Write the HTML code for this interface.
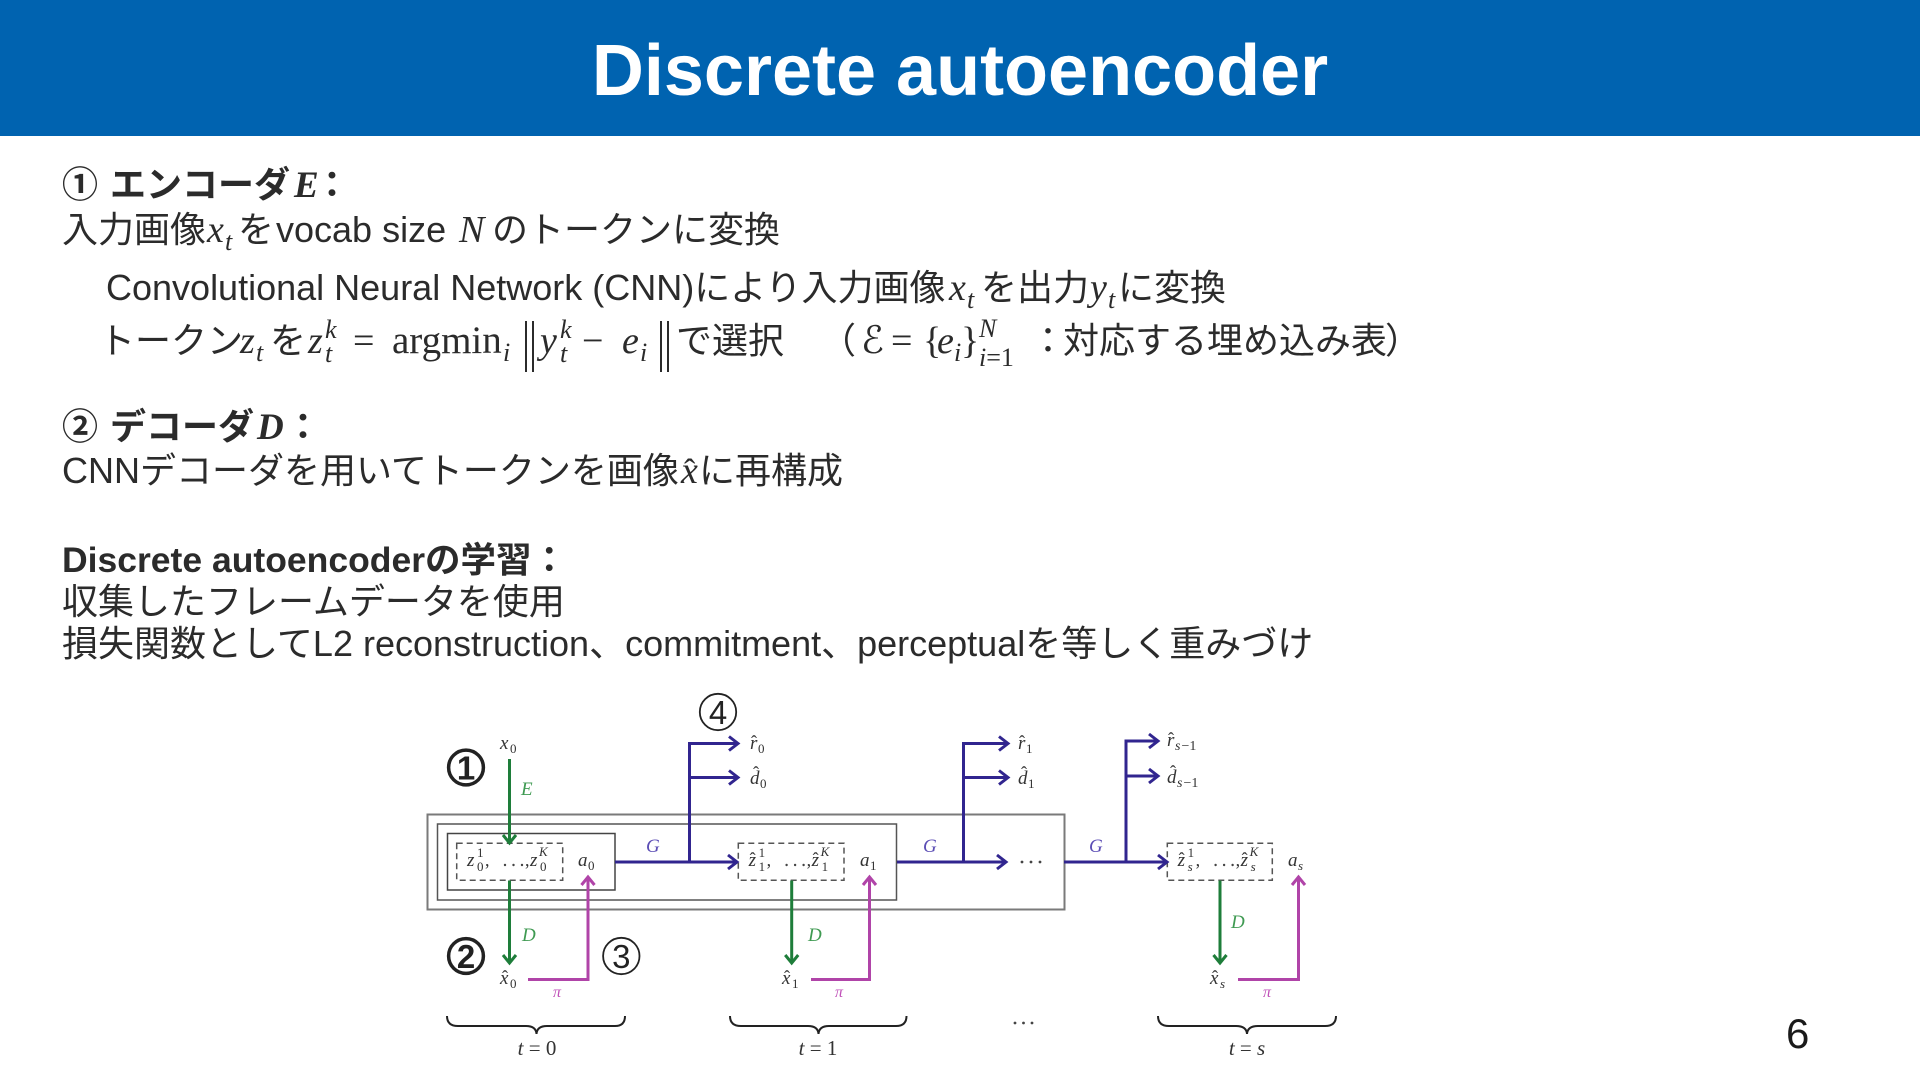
<!DOCTYPE html>
<html lang="ja">
<head>
<meta charset="utf-8">
<title>Discrete autoencoder</title>
<style>
  html,body{margin:0;padding:0;background:#fff;}
  body{width:1920px;height:1080px;overflow:hidden;}
  svg{display:block;}
  .t{font-family:"Liberation Sans","Noto Sans CJK JP",sans-serif;font-size:36px;fill:#2b2b2b;}
  .mi{font-family:"Liberation Serif","DejaVu Serif","DejaVu Sans",serif;font-style:italic;font-size:38px;}
  .mu{font-family:"Liberation Serif","DejaVu Serif",serif;font-style:normal;font-size:38px;}
  .mb{font-family:"Liberation Serif","DejaVu Serif",serif;font-style:italic;font-weight:bold;font-size:37px;}
  .sb{font-size:26px;}
  .cj{font-family:"Noto Sans CJK JP","Liberation Sans",sans-serif;}
  .d{font-family:"Liberation Serif","DejaVu Serif",serif;fill:#333;}
  .di{font-family:"Liberation Serif","DejaVu Serif",serif;font-style:italic;font-size:19px;fill:#333;}
  .ds{font-family:"Liberation Serif","DejaVu Serif",serif;font-size:13px;fill:#333;}
  .dsi{font-family:"Liberation Serif","DejaVu Serif",serif;font-style:italic;font-size:13px;fill:#333;}
  .dss{font-family:"Liberation Serif","DejaVu Serif",serif;font-style:italic;font-size:14px;fill:#333;}
  .hat{font-family:"Liberation Serif","DejaVu Serif",serif;font-size:18px;fill:#333;}
</style>
</head>
<body>
<svg width="1920" height="1080" viewBox="0 0 1920 1080" xmlns="http://www.w3.org/2000/svg">
  <!-- Header -->
  <rect x="0" y="0" width="1920" height="136" fill="#0063B0"/>
  <text x="960" y="95" text-anchor="middle" font-family="Liberation Sans, Arial, sans-serif" font-weight="bold" font-size="72" fill="#ffffff">Discrete autoencoder</text>

  <!-- Body text -->
  <g class="t" xml:space="preserve">
    <!-- Line 1 -->
    <text y="197" font-weight="bold"><tspan x="62" class="cj">①</tspan><tspan x="110">エンコーダ</tspan><tspan x="294" class="mb">E</tspan><tspan x="314">：</tspan></text>
    <!-- Line 2 -->
    <text y="242"><tspan x="62">入力画像</tspan><tspan x="207" class="mi">x</tspan><tspan x="225" y="250" class="mi sb">t</tspan><tspan x="238" y="242">を</tspan><tspan x="276">vocab size</tspan><tspan x="459" class="mi">N</tspan><tspan x="492">のトークンに変換</tspan></text>
    <!-- Line 3 -->
    <text y="300"><tspan x="106">Convolutional Neural Network (CNN)により入力画像</tspan><tspan x="949" class="mi">x</tspan><tspan x="967" y="308" class="mi sb">t</tspan><tspan x="981" y="300">を出力</tspan><tspan x="1090" class="mi">y</tspan><tspan x="1108" y="308" class="mi sb">t</tspan><tspan x="1118" y="300">に変換</tspan></text>
    <!-- Line 4 -->
    <text y="353"><tspan x="99">トークン</tspan><tspan x="240" class="mi">z</tspan><tspan x="256" y="361" class="mi sb">t</tspan><tspan x="270" y="353">を</tspan><tspan x="308" class="mi">z</tspan><tspan x="325" y="338" class="mi sb">k</tspan><tspan x="325" y="362" class="mi sb">t</tspan><tspan x="353" y="353" class="mu">=</tspan><tspan x="392" class="mu" style="font-size:39px">argmin</tspan><tspan x="503" y="361" class="mi sb">i</tspan><tspan x="540" y="353" class="mi">y</tspan><tspan x="560" y="338" class="mi sb">k</tspan><tspan x="560" y="362" class="mi sb">t</tspan><tspan x="582" y="353" class="mu">−</tspan><tspan x="622" class="mi">e</tspan><tspan x="640" y="361" class="mi sb">i</tspan><tspan x="676" y="353">で選択</tspan><tspan x="820">（</tspan><tspan x="861" class="mi">ℰ</tspan><tspan x="891" class="mu">=</tspan><tspan x="923" class="mu">{</tspan><tspan x="937" class="mi">e</tspan><tspan x="954" y="361" class="mi sb">i</tspan><tspan x="961" y="353" class="mu">}</tspan><tspan x="979" y="337" class="mi sb">N</tspan><tspan x="979" y="366" class="mi sb">i</tspan><tspan class="mu sb">=1</tspan><tspan x="1030" y="353">：</tspan><tspan x="1063">対応する埋め込み表</tspan><tspan x="1385">）</tspan></text>
    <!-- Line 5 -->
    <text y="439" font-weight="bold"><tspan x="62" class="cj">②</tspan><tspan x="110">デコーダ</tspan><tspan x="257" class="mb">D</tspan><tspan x="285">：</tspan></text>
    <!-- Line 6 -->
    <text y="483"><tspan x="62">CNNデコーダを用いてトークンを画像</tspan><tspan x="681" class="mi">x</tspan><tspan x="699">に再構成</tspan></text>
    <text x="684" y="482" class="mu" style="font-size:34px">ˆ</text>
    <!-- Line 7 -->
    <text x="62" y="572" font-weight="bold" style="font-size:35.5px">Discrete autoencoderの学習：</text>
    <!-- Line 8 -->
    <text x="62" y="614">収集したフレームデータを使用</text>
    <!-- Line 9 -->
    <text x="62" y="656">損失関数としてL2 reconstruction、commitment、perceptualを等しく重みづけ</text>
  </g>
  <!-- norm bars -->
  <g stroke="#2b2b2b" stroke-width="2">
    <line x1="526" y1="321" x2="526" y2="372"/>
    <line x1="533" y1="321" x2="533" y2="372"/>
    <line x1="661" y1="321" x2="661" y2="372"/>
    <line x1="668" y1="321" x2="668" y2="372"/>
  </g>

  <!-- Page number -->
  <text x="1786" y="1048" font-family="Liberation Sans, Arial, sans-serif" font-size="42" fill="#1a1a1a">6</text>

  <!-- ===== Diagram ===== -->
  <!-- boxes -->
  <g fill="none">
    <rect x="427.5" y="814.5" width="637" height="95" stroke="#7a7a7a" stroke-width="2"/>
    <rect x="437.5" y="824" width="459" height="76" stroke="#555" stroke-width="1.5"/>
    <rect x="447.5" y="833.5" width="167.5" height="56.5" stroke="#444" stroke-width="1.5"/>
    <g stroke="#555" stroke-width="1.5" stroke-dasharray="6 4">
      <rect x="456.7" y="843.3" width="106" height="37"/>
      <rect x="738.3" y="843.3" width="105.7" height="37"/>
      <rect x="1167.3" y="843.3" width="105" height="37"/>
    </g>
  </g>

  <!-- blue G arrows -->
  <g stroke="#31258f" stroke-width="3" fill="none" stroke-linejoin="miter">
    <path d="M615,862 H736"/>
    <path d="M728,855 L737,862 L728,869"/>
    <path d="M689.5,862 V743.5 H737"/>
    <path d="M729,736.5 L738,743.5 L729,750.5"/>
    <path d="M689.5,777.5 H737"/>
    <path d="M729,770.5 L738,777.5 L729,784.5"/>

    <path d="M897,862 H1005"/>
    <path d="M997,855 L1006,862 L997,869"/>
    <path d="M963.5,862 V743.5 H1007"/>
    <path d="M999,736.5 L1008,743.5 L999,750.5"/>
    <path d="M963.5,777.5 H1007"/>
    <path d="M999,770.5 L1008,777.5 L999,784.5"/>

    <path d="M1064,862 H1166"/>
    <path d="M1158,855 L1167,862 L1158,869"/>
    <path d="M1126,862 V741 H1157"/>
    <path d="M1149,734 L1158,741 L1149,748"/>
    <path d="M1126,776 H1157"/>
    <path d="M1149,769 L1158,776 L1149,783"/>
  </g>

  <!-- green arrows -->
  <g stroke="#1e7d3a" stroke-width="3" fill="none">
    <path d="M509.5,759 V842"/>
    <path d="M503,835 L509.5,843 L516,835"/>
    <path d="M509.5,880.5 V962"/>
    <path d="M503,955 L509.5,963 L516,955"/>
    <path d="M791.7,880.5 V962"/>
    <path d="M785.2,955 L791.7,963 L798.2,955"/>
    <path d="M1220,880.5 V962"/>
    <path d="M1213.5,955 L1220,963 L1226.5,955"/>
  </g>

  <!-- magenta arrows -->
  <g stroke="#b044a8" stroke-width="3" fill="none">
    <path d="M528,979.5 H588 V878"/>
    <path d="M581.5,885 L588,877 L594.5,885"/>
    <path d="M811,979.5 H869.5 V878"/>
    <path d="M863,885 L869.5,877 L876,885"/>
    <path d="M1238,979.5 H1298.5 V878"/>
    <path d="M1292,885 L1298.5,877 L1305,885"/>
  </g>

  <!-- braces -->
  <g stroke="#222" stroke-width="2" fill="none">
    <path d="M447,1016 Q447,1026 458,1026 L526,1026 Q536,1026 536.5,1034 Q537,1026 547,1026 L615,1026 Q625,1026 625,1016"/>
    <path d="M730,1016 Q730,1026 741,1026 L808,1026 Q818,1026 818.5,1034 Q819,1026 829,1026 L896,1026 Q906.5,1026 906.5,1016"/>
    <path d="M1158,1016 Q1158,1026 1169,1026 L1236,1026 Q1246.5,1026 1247,1034 Q1247.5,1026 1258,1026 L1325,1026 Q1336,1026 1336,1016"/>
  </g>

  <!-- dots -->
  <g fill="#444">
    <circle cx="1022" cy="862" r="1.4"/>
    <circle cx="1031" cy="862" r="1.4"/>
    <circle cx="1040" cy="862" r="1.4"/>
    <circle cx="1015" cy="1023" r="1.4"/>
    <circle cx="1023.5" cy="1023" r="1.4"/>
    <circle cx="1032" cy="1023" r="1.4"/>
    <circle cx="505" cy="865" r="1.2"/>
    <circle cx="513.5" cy="865" r="1.2"/>
    <circle cx="522" cy="865" r="1.2"/>
    <circle cx="786.6" cy="865" r="1.2"/>
    <circle cx="795.1" cy="865" r="1.2"/>
    <circle cx="803.6" cy="865" r="1.2"/>
    <circle cx="1215.6" cy="865" r="1.2"/>
    <circle cx="1224.1" cy="865" r="1.2"/>
    <circle cx="1232.6" cy="865" r="1.2"/>
  </g>

  <!-- circled numbers -->
  <g fill="none" stroke="#222">
    <circle cx="466" cy="767.5" r="17.4" stroke-width="3.5"/>
    <circle cx="466" cy="956" r="17.4" stroke-width="3.5"/>
    <circle cx="621.3" cy="956" r="18.2" stroke-width="1.8"/>
    <circle cx="718" cy="712" r="18.2" stroke-width="1.8"/>
  </g>
  <g font-family="Liberation Sans, Arial, sans-serif" fill="#222" text-anchor="middle">
    <text x="466" y="779.5" font-size="33" font-weight="bold">1</text>
    <text x="466" y="968" font-size="33" font-weight="bold">2</text>
    <text x="621.3" y="968" font-size="33">3</text>
    <text x="718" y="724" font-size="33">4</text>
  </g>

  <!-- diagram labels -->
  <text x="500" y="749" class="di">x</text><text x="510" y="753" class="ds">0</text>
  <text x="521" y="795" class="di" style="fill:#3f9a52">E</text>
  <text x="522" y="941" class="di" style="fill:#3f9a52">D</text>
  <text x="808" y="941" class="di" style="fill:#3f9a52">D</text>
  <text x="1231" y="928" class="di" style="fill:#3f9a52">D</text>
  <text x="646" y="852" class="di" style="fill:#5b4db5">G</text>
  <text x="923" y="852" class="di" style="fill:#5b4db5">G</text>
  <text x="1089" y="852" class="di" style="fill:#5b4db5">G</text>

  <!-- token box t=0 -->
  <text x="467" y="866" class="di">z</text><text x="477" y="857" class="ds">1</text><text x="477" y="871" class="ds">0</text>
  <text x="485" y="866" class="d" font-size="18">,</text>
  <text x="525" y="866" class="d" font-size="18">,</text>
  <text x="530" y="866" class="di">z</text><text x="539" y="856" class="dsi">K</text><text x="540" y="871" class="ds">0</text>
  <text x="578" y="866" class="di">a</text><text x="588" y="870" class="ds">0</text>

  <!-- token box t=1 -->
  <text x="748.6" y="866" class="di">z</text><text x="749.6" y="865" class="hat">ˆ</text>
  <text x="758.6" y="857" class="ds">1</text><text x="758.6" y="871" class="ds">1</text>
  <text x="766.6" y="866" class="d" font-size="18">,</text>
  <text x="806.6" y="866" class="d" font-size="18">,</text>
  <text x="811.6" y="866" class="di">z</text><text x="812.6" y="865" class="hat">ˆ</text>
  <text x="820.6" y="856" class="dsi">K</text><text x="821.6" y="871" class="ds">1</text>
  <text x="860" y="866" class="di">a</text><text x="870" y="870" class="ds">1</text>

  <!-- token box t=s -->
  <text x="1177.6" y="866" class="di">z</text><text x="1178.6" y="865" class="hat">ˆ</text>
  <text x="1187.6" y="857" class="ds">1</text><text x="1187.6" y="871" class="dsi">s</text>
  <text x="1195.6" y="866" class="d" font-size="18">,</text>
  <text x="1235.6" y="866" class="d" font-size="18">,</text>
  <text x="1240.6" y="866" class="di">z</text><text x="1241.6" y="865" class="hat">ˆ</text>
  <text x="1249.6" y="856" class="dsi">K</text><text x="1250.6" y="871" class="dsi">s</text>
  <text x="1288" y="866" class="di">a</text><text x="1298" y="870" class="dsi">s</text>

  <!-- r-hat, d-hat -->
  <text x="750" y="749" class="di">r</text><text x="751" y="748" class="hat">ˆ</text><text x="758" y="753" class="ds">0</text>
  <text x="750" y="784" class="di">d</text><text x="753" y="779" class="hat">ˆ</text><text x="760" y="788" class="ds">0</text>
  <text x="1018" y="749" class="di">r</text><text x="1019" y="748" class="hat">ˆ</text><text x="1026" y="753" class="ds">1</text>
  <text x="1018" y="784" class="di">d</text><text x="1021" y="779" class="hat">ˆ</text><text x="1028" y="788" class="ds">1</text>
  <text x="1167" y="746" class="di">r</text><text x="1168" y="745" class="hat">ˆ</text><text x="1175" y="750" class="dss">s<tspan font-style="normal" dx="1">−1</tspan></text>
  <text x="1167" y="783" class="di">d</text><text x="1170" y="778" class="hat">ˆ</text><text x="1177" y="787" class="dss">s<tspan font-style="normal" dx="1">−1</tspan></text>

  <!-- x-hat -->
  <text x="500" y="984" class="di">x</text><text x="502" y="983" class="hat">ˆ</text><text x="510" y="988" class="ds">0</text>
  <text x="782" y="984" class="di">x</text><text x="784" y="983" class="hat">ˆ</text><text x="792" y="988" class="ds">1</text>
  <text x="1210" y="984" class="di">x</text><text x="1212" y="983" class="hat">ˆ</text><text x="1220" y="988" class="dsi">s</text>

  <!-- pi -->
  <text x="553" y="997" class="di" style="fill:#c050b8;font-size:16px">π</text>
  <text x="835" y="997" class="di" style="fill:#c050b8;font-size:16px">π</text>
  <text x="1263" y="997" class="di" style="fill:#c050b8;font-size:16px">π</text>

  <!-- t labels -->
  <text x="537" y="1055" text-anchor="middle" class="d" font-size="21" xml:space="preserve"><tspan font-style="italic">t</tspan> = 0</text>
  <text x="818" y="1055" text-anchor="middle" class="d" font-size="21" xml:space="preserve"><tspan font-style="italic">t</tspan> = 1</text>
  <text x="1247" y="1055" text-anchor="middle" class="d" font-size="21" xml:space="preserve"><tspan font-style="italic">t</tspan> = <tspan font-style="italic">s</tspan></text>
</svg>
</body>
</html>
